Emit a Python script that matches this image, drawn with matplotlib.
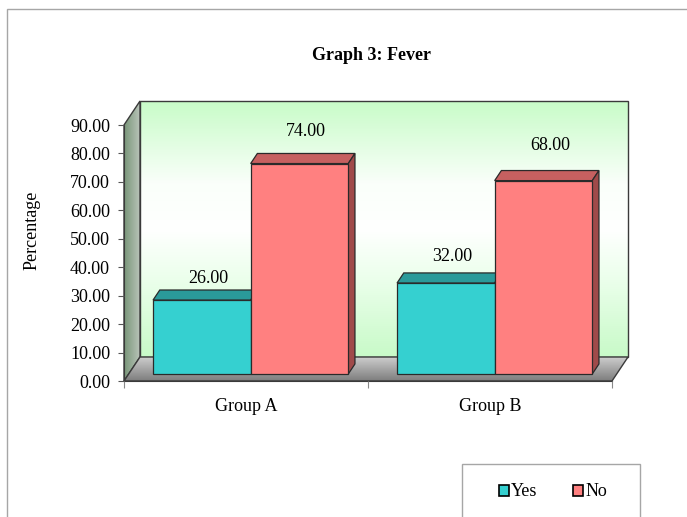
import numpy as np
import matplotlib
matplotlib.use("Agg")
import matplotlib.pyplot as plt
from matplotlib.patches import Polygon, Rectangle, Patch

# ---- data ----
categories = ["Group A", "Group B"]
series_names = ["Yes", "No"]
yes_values = [26.00, 32.00]
no_values = [74.00, 68.00]
y_ticks = [0, 10, 20, 30, 40, 50, 60, 70, 80, 90]
title = "Graph 3: Fever"
y_label = "Percentage"

# ---- style ----
plt.rcParams["font.family"] = ["Liberation Serif", "DejaVu Serif"]
FS = 13
face_cols = {"Yes": "#35D0D0", "No": "#FF8080"}
top_cols = {"Yes": "#2A9A9A", "No": "#C66060"}
side_cols = {"Yes": "#237F7F", "No": "#A04A4A"}
edge_col = "#2a2a2a"
label_lift = [[8, 16], [12, 18]]   # points above the top face, per group/series

W, H = 687, 517
fig = plt.figure(figsize=(W / 100, H / 100), dpi=100)

# front plane of the plot area (pixels: x 124..612, y 125..381)
ax = fig.add_axes([124 / W, 1 - 381 / H, (612 - 124) / W, (381 - 125) / H])
ax.patch.set_visible(False)
XMAX, YMAX = len(categories), 90.0
px_x = (612 - 124) / XMAX
px_y = (381 - 125) / YMAX
DX = 16 / px_x     # depth offset of the chart box, data units
DY = 24 / px_y
f0, f1 = 0.29, 0.71  # bars occupy this slice of the depth


def vgrad(stops, n=256):
    t = np.linspace(0, 1, n)
    pos = [s[0] for s in stops]
    cols = np.array([s[1] for s in stops], dtype=float) / 255
    arr = np.stack([np.interp(t, pos, cols[:, k]) for k in range(3)], axis=-1)
    return arr


def gradient_patch(grad, extent, verts, z):
    """Fill a polygon with a gradient image."""
    poly = Polygon(verts, closed=True, transform=ax.transData)
    img = ax.imshow(grad, extent=extent, origin="lower", aspect="auto",
                    zorder=z, interpolation="bilinear")
    img.set_clip_path(poly)
    img.set_clip_box(fig.bbox)
    ax.add_patch(Polygon(verts, closed=True, fill=False, ec="#3a3a3a", lw=1.0,
                         zorder=z + 0.05, clip_on=False))
    return img


# back wall: green at top and bottom, white through the middle
bw = vgrad([(0.0, (200, 250, 200)), (0.3, (235, 255, 235)), (0.5, (255, 255, 255)),
            (0.68, (250, 255, 250)), (1.0, (200, 252, 200))])[:, None, :]
gradient_patch(bw, [DX, XMAX + DX, DY, YMAX + DY],
               [(DX, DY), (XMAX + DX, DY), (XMAX + DX, YMAX + DY), (DX, YMAX + DY)], 0.5)

# left wall
lw_grad = vgrad([(0.0, (120, 150, 120)), (1.0, (185, 195, 185))])[None, :, :]
gradient_patch(lw_grad, [0, DX, 0, YMAX + DY],
               [(0, 0), (0, YMAX), (DX, YMAX + DY), (DX, DY)], 0.6)

# floor
fl_grad = vgrad([(0.0, (125, 125, 125)), (0.5, (165, 165, 165)),
                 (1.0, (205, 205, 205))])[:, None, :]
gradient_patch(fl_grad, [0, XMAX + DX, 0, DY],
               [(0, 0), (XMAX, 0), (XMAX + DX, DY), (DX, DY)], 0.7)

# bars
bar_w = 0.4
idx = np.arange(len(categories))
ddx, ddy = (f1 - f0) * DX, (f1 - f0) * DY
series = [("Yes", yes_values, 0.1), ("No", no_values, 0.5)]
z = 2
for gi in range(len(categories)):
    for si, (name, vals, off) in enumerate(series):
        cont = ax.bar(idx[gi] + off + f0 * DX, vals[gi], width=bar_w,
                      bottom=f0 * DY, align="edge", color=face_cols[name],
                      edgecolor=edge_col, linewidth=0.9, zorder=z + 0.2)
        r = cont.patches[0]
        x0, y0, w, h = r.get_x(), r.get_y(), r.get_width(), r.get_height()
        top = y0 + h
        ax.add_patch(Polygon([(x0, top), (x0 + w, top), (x0 + w + ddx, top + ddy),
                              (x0 + ddx, top + ddy)], closed=True,
                             fc=top_cols[name], ec=edge_col, lw=0.9,
                             zorder=z + 0.1, clip_on=False))
        ax.add_patch(Polygon([(x0 + w, y0), (x0 + w, top), (x0 + w + ddx, top + ddy),
                              (x0 + w + ddx, y0 + ddy)], closed=True,
                             fc=side_cols[name], ec=edge_col, lw=0.9,
                             zorder=z + 0.1, clip_on=False))
        ax.annotate(f"{vals[gi]:.2f}", (x0 + w / 2 + ddx, top + ddy),
                    xytext=(0, label_lift[gi][si]), textcoords="offset points",
                    ha="center", va="center", fontsize=FS, zorder=10,
                    annotation_clip=False)
        z += 1

ax.set_xlim(0, XMAX)
ax.set_ylim(0, YMAX)

# axes lines and ticks
for s in ["top", "right"]:
    ax.spines[s].set_visible(False)
for s in ["left", "bottom"]:
    ax.spines[s].set_color("#3a3a3a")
    ax.spines[s].set_zorder(1)
ax.set_yticks(y_ticks)
ax.set_yticklabels([f"{v:.2f}" for v in y_ticks], fontsize=FS)
ax.tick_params(axis="y", direction="out", length=4, width=0.8, color="#555555", pad=6)
ax.set_xticks(np.arange(XMAX + 1))
ax.set_xticklabels([])
ax.tick_params(axis="x", which="major", direction="out", length=5, width=0.8,
               color="#888888")
ax.set_xticks(idx + 0.5, minor=True)
ax.set_xticklabels(categories, minor=True, fontsize=FS)
ax.tick_params(axis="x", which="minor", length=0, pad=12)

ax.set_ylabel(y_label, fontsize=FS)
ax.yaxis.set_label_coords((41 - 124) / (612 - 124), (381 - 230) / (381 - 125))

fig.text(372 / W, 1 - 55 / H, title, ha="center", va="center",
         fontsize=FS, fontweight="bold")

# outer chart frame
fig.add_artist(Rectangle((7 / W, -0.1), 1.2, 1.1 - 9 / H, transform=fig.transFigure,
                         fill=False, ec="#a6a6a6", lw=1.0))

# legend box and entries
fig.add_artist(Rectangle((462 / W, -0.1), (640 - 462) / W, 0.1 + (517 - 464) / H,
                         transform=fig.transFigure, fill=False, ec="#a6a6a6", lw=1.0))
handles = [Patch(fc=face_cols[n], ec="black", lw=1.2) for n in series_names]
fig.legend(handles, series_names, loc="center", ncol=2, frameon=False,
           bbox_to_anchor=(553 / W, 1 - 492 / H), fontsize=FS,
           handlelength=0.55, handleheight=0.55, handletextpad=0.1,
           columnspacing=2.0, borderpad=0)

fig.savefig("out.png", dpi=100)
